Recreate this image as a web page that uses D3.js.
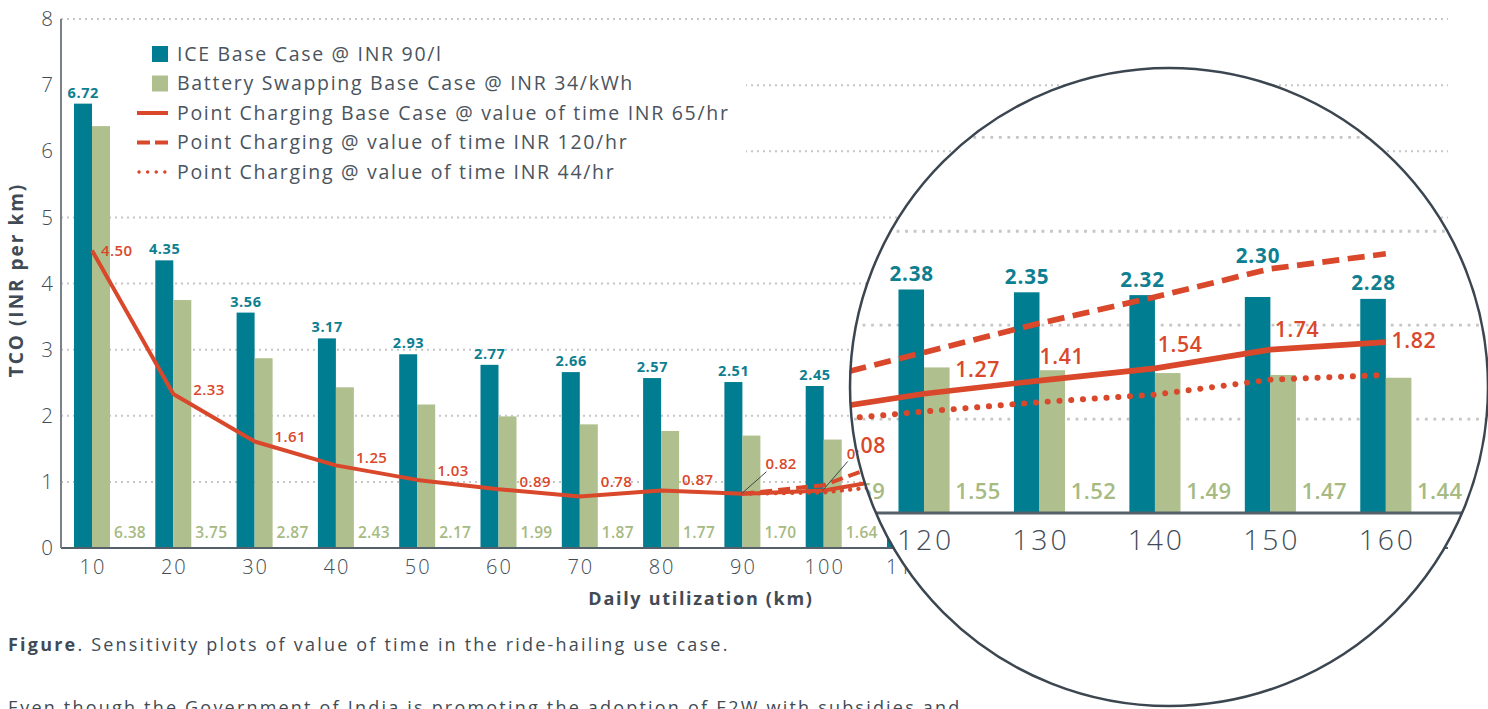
<!DOCTYPE html>
<html>
<head>
<meta charset="utf-8">
<script src="https://cdn.jsdelivr.net/npm/d3@7"></script>
<style>
  body { margin: 0; background: #fff; }
  svg text { font-family: "Open Sans", "Lato", sans-serif; }
</style>
</head>
<body>
<svg id="chart" width="1488" height="709"></svg>
<script>
// values
var categories = [10, 20, 30, 40, 50, 60, 70, 80, 90, 100, 110, 120, 130, 140, 150, 160];
var iceBase = [6.72, 4.35, 3.56, 3.17, 2.93, 2.77, 2.66, 2.57, 2.51, 2.45, 2.41, 2.38, 2.35, 2.32, 2.30, 2.28];
var swapBase = [6.38, 3.75, 2.87, 2.43, 2.17, 1.99, 1.87, 1.77, 1.70, 1.64, 1.59, 1.55, 1.52, 1.49, 1.47, 1.44];
var pcBase = [4.50, 2.33, 1.61, 1.25, 1.03, 0.89, 0.78, 0.87, 0.82, 0.87, 1.08, 1.27, 1.41, 1.54, 1.74, 1.82];
var pcHigh = [null, null, null, null, null, null, null, null, 0.82, 0.95, 1.40, 1.71, 2.02, 2.30, 2.60, 2.76];
var pcLow = [null, null, null, null, null, null, null, null, 0.82, 0.84, 0.97, 1.08, 1.18, 1.26, 1.42, 1.47];
var yTicks = [0, 1, 2, 3, 4, 5, 6, 7, 8];
var legendLabels = [
  "ICE Base Case @ INR 90/l",
  "Battery Swapping Base Case @ INR 34/kWh",
  "Point Charging Base Case @ value of time INR 65/hr",
  "Point Charging @ value of time INR 120/hr",
  "Point Charging @ value of time INR 44/hr"
];

// hand placement of the red value labels (px from the point)
var pcNudge = [[9, 0], [20, -4], [20, -5], [20, -8], [20, -9], [21, -7], [21, -15], [21, -11],
  [23, -30], [23, -37], [23, 24], [22, -17], [0, -17], [2, -17], [3, -14], [4, -1]];
var iceLift = {150: 18};

var teal = "#017d91", green = "#afc08e", red = "#d9482b", ink = "#414b55";

var svg = d3.select("#chart");
var x = d3.scalePoint().domain(categories).range([92, 1311.5]);
var y = d3.scaleLinear().domain([0, 8]).range([548, 19]);
var barW = 18;
var axisLeft = 61, axisRight = 1448;

var rows = categories.map(function(c, i) {
  return {c: c, ice: iceBase[i], swap: swapBase[i], base: pcBase[i], high: pcHigh[i], low: pcLow[i], i: i};
});

var drawPlot = function(g, withLegendBox) {
  g.selectAll("line.grid")
    .data(yTicks.filter(function(d) { return d > 0; }))
    .enter().append("line")
    .attr("class", "grid")
    .attr("x1", axisLeft).attr("x2", axisRight)
    .attr("y1", function(d) { return y(d); }).attr("y2", function(d) { return y(d); })
    .attr("stroke", "#c6c6c6").attr("stroke-width", 2)
    .attr("stroke-dasharray", "2 4");

  if (withLegendBox) {
    g.append("rect").attr("x", axisLeft + 1).attr("y", 32).attr("width", 684).attr("height", 160).attr("fill", "#fff");
  }

  g.selectAll("rect.ice").data(rows).enter().append("rect")
    .attr("x", function(d) { return x(d.c) - barW; })
    .attr("y", function(d) { return y(d.ice); })
    .attr("width", barW)
    .attr("height", function(d) { return y(0) - y(d.ice); })
    .attr("fill", teal);

  g.selectAll("rect.swap").data(rows).enter().append("rect")
    .attr("x", function(d) { return x(d.c); })
    .attr("y", function(d) { return y(d.swap); })
    .attr("width", barW)
    .attr("height", function(d) { return y(0) - y(d.swap); })
    .attr("fill", green);

  // axes
  g.append("line").attr("x1", axisLeft).attr("x2", axisRight).attr("y1", y(0)).attr("y2", y(0))
    .attr("stroke", "#56606a").attr("stroke-width", 2);
  g.append("line").attr("x1", axisLeft).attr("x2", axisLeft).attr("y1", y(8)).attr("y2", y(0))
    .attr("stroke", "#7a8188").attr("stroke-width", 2);

  var line = function(key) {
    return d3.line()
      .defined(function(d) { return d[key] != null; })
      .x(function(d) { return x(d.c); })
      .y(function(d) { return y(d[key]); });
  };

  g.append("path").datum(rows).attr("d", line("low"))
    .attr("fill", "none").attr("stroke", red).attr("stroke-width", 4.2)
    .attr("stroke-linecap", "round").attr("stroke-dasharray", "0.1 8.2");
  g.append("path").datum(rows).attr("d", line("high"))
    .attr("fill", "none").attr("stroke", red).attr("stroke-width", 4)
    .attr("stroke-dasharray", "12 6");
  g.append("path").datum(rows).attr("d", line("base"))
    .attr("fill", "none").attr("stroke", red).attr("stroke-width", 4)
    .attr("stroke-linejoin", "round");

  // leader lines for the crowded labels
  g.selectAll("line.leader").data(rows.filter(function(d) { return d.c === 90 || d.c === 100; }))
    .enter().append("line")
    .attr("x1", function(d) { return x(d.c) - 1; })
    .attr("y1", function(d) { return y(d.base); })
    .attr("x2", function(d) { return x(d.c) + pcNudge[d.i][0] + 1; })
    .attr("y2", function(d) { return y(d.base) + pcNudge[d.i][1] + 8; })
    .attr("stroke", "#3c4650").attr("stroke-width", 1);

  g.selectAll("text.ice").data(rows).enter().append("text")
    .attr("x", function(d) { return x(d.c) - barW / 2 + 0.3; })
    .attr("y", function(d) { return y(d.ice) - 6 - (iceLift[d.c] || 0); })
    .attr("text-anchor", "middle")
    .attr("font-size", 14.5).attr("font-weight", 700).attr("fill", "#0e7e91")
    .attr("letter-spacing", 0.6)
    .text(function(d) { return d.ice.toFixed(2); });

  g.selectAll("text.swap").data(rows).enter().append("text")
    .attr("x", function(d) { return x(d.c) + 38; })
    .attr("y", y(0) - 10)
    .attr("text-anchor", "middle")
    .attr("font-size", 15.5).attr("font-weight", 600).attr("fill", "#a6ba82")
    .attr("letter-spacing", 0.3)
    .text(function(d) { return d.swap.toFixed(2); });

  g.selectAll("text.pc").data(rows).enter().append("text")
    .attr("x", function(d) { return x(d.c) + pcNudge[d.i][0]; })
    .attr("y", function(d) { return y(d.base) + pcNudge[d.i][1]; })
    .attr("dy", "0.35em")
    .attr("font-size", 15).attr("font-weight", 600).attr("fill", red)
    .attr("letter-spacing", 0.4)
    .text(function(d) { return d.base.toFixed(2); });

  g.selectAll("text.xtick").data(categories).enter().append("text")
    .attr("x", function(d) { return x(d) + 1; })
    .attr("y", 574)
    .attr("text-anchor", "middle")
    .attr("font-size", 20).attr("font-weight", 300).attr("fill", ink)
    .attr("letter-spacing", 2)
    .text(function(d) { return d; });
};

var main = svg.append("g");
drawPlot(main, true);

main.selectAll("text.ytick").data(yTicks).enter().append("text")
  .attr("x", 53)
  .attr("y", function(d) { return y(d); })
  .attr("dy", "0.35em")
  .attr("text-anchor", "end")
  .attr("font-size", 20.5).attr("font-weight", 300).attr("fill", ink)
  .text(function(d) { return d; });

main.append("text")
  .attr("transform", "translate(23,280) rotate(-90)")
  .attr("text-anchor", "middle")
  .attr("font-size", 19).attr("font-weight", 700).attr("fill", ink)
  .attr("letter-spacing", 2)
  .text("TCO (INR per km)");

main.append("text")
  .attr("x", 701).attr("y", 605)
  .attr("text-anchor", "middle")
  .attr("font-size", 18).attr("font-weight", 700).attr("fill", ink)
  .attr("letter-spacing", 1.7)
  .text("Daily utilization (km)");

// legend
var legend = main.append("g");
var legendY = d3.scalePoint().domain(d3.range(legendLabels.length)).range([54, 172]);
legendLabels.forEach(function(label, i) {
  var ly = legendY(i);
  if (i < 2) {
    legend.append("rect").attr("x", 152).attr("y", ly - 8).attr("width", 16).attr("height", 16)
      .attr("fill", i === 0 ? teal : green);
  } else {
    legend.append("line").attr("x1", i === 4 ? 139 : 137).attr("x2", 168).attr("y1", ly).attr("y2", ly)
      .attr("stroke", red).attr("stroke-width", i === 4 ? 3.4 : 4)
      .attr("stroke-linecap", i === 4 ? "round" : "butt")
      .attr("stroke-dasharray", i === 3 ? "13 5" : (i === 4 ? "0.1 8.5" : null));
  }
  legend.append("text").attr("x", 177).attr("y", ly).attr("dy", "0.35em")
    .attr("font-size", 19.5).attr("fill", "#4a545e")
    .attr("letter-spacing", 1.7)
    .text(label);
});

// caption and following paragraph
var cap = main.append("text").attr("x", 8).attr("y", 651).attr("font-size", 18).attr("fill", ink)
  .attr("letter-spacing", 2.2);
cap.append("tspan").attr("font-weight", 700).text("Figure");
cap.append("tspan").text(". Sensitivity plots of value of time in the ride-hailing use case.");
main.append("text").attr("x", 8).attr("y", 714).attr("font-size", 18).attr("fill", ink)
  .attr("letter-spacing", 2.2)
  .text("Even though the Government of India is promoting the adoption of E2W with subsidies and");

// magnifier lens
var lensX = 1169, lensY = 387, lensR = 319;
svg.append("defs").append("clipPath").attr("id", "lens")
  .append("circle").attr("cx", lensX).attr("cy", lensY).attr("r", lensR);
var lens = svg.append("g").attr("clip-path", "url(#lens)");
lens.append("circle").attr("cx", lensX).attr("cy", lensY).attr("r", lensR).attr("fill", "#fff");
var zoomed = lens.append("g").attr("transform", "translate(-476.5,-265.2) scale(1.42)");
drawPlot(zoomed, false);
svg.append("circle").attr("cx", lensX).attr("cy", lensY).attr("r", lensR)
  .attr("fill", "none").attr("stroke", "#3b4650").attr("stroke-width", 2.5);
</script>
</body>
</html>
